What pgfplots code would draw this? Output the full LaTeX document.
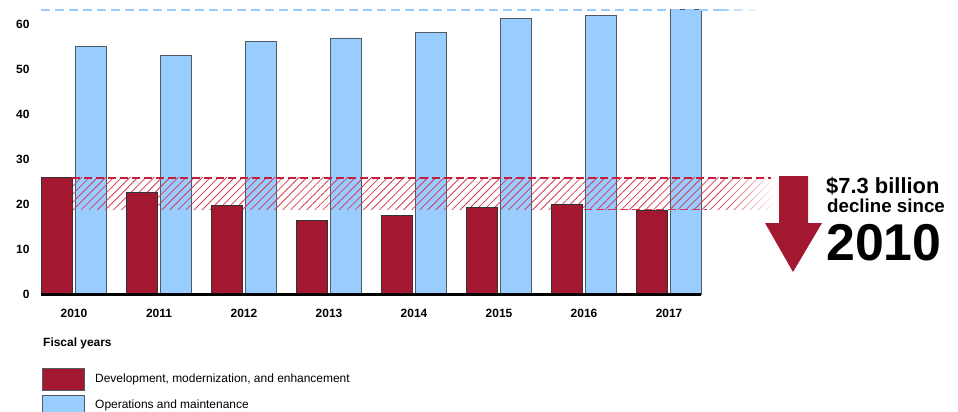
\documentclass[border=0pt]{standalone}
\usepackage{fontspec}
\setmainfont{Liberation Sans}
\usepackage{pgfplots}
\pgfplotsset{compat=1.18}
\usetikzlibrary{patterns.meta,fadings}
\definecolor{barred}{HTML}{A31830}
\definecolor{hatchred}{HTML}{D23A52}
\definecolor{dashred}{HTML}{C41E3A}
\definecolor{barblue}{HTML}{99CCFF}
\definecolor{edgegray}{HTML}{505A64}
\definecolor{dashblue}{HTML}{9CCBFF}
\begin{document}
\begin{tikzpicture}
\begin{axis}[
  at={(41bp,-294bp)}, anchor=south west,
  scale only axis, width=660bp, height=292.5bp,
  xmin=-0.388, xmax=7.376, ymin=0, ymax=65,
  clip=false,
  axis line style={draw=none},
  xtick={0,1,2,3,4,5,6,7},
  xticklabels={2010,2011,2012,2013,2014,2015,2016,2017},
  ytick={0,10,20,30,40,50,60},
  major tick length=0pt,
  tick label style={font=\fontsize{12}{14}\selectfont\bfseries},
  /pgf/number format/assume math mode=true,
  yticklabel style={xshift=-8bp},
  xticklabel style={yshift=-12bp},
]
\addplot[ybar, bar width=0.36, bar shift=0.2, fill=barblue, draw=edgegray, line width=0.9bp]
  coordinates {(0,55.1) (1,53.1) (2,56.2) (3,56.9) (4,58.2) (5,61.3) (6,61.8) (7,63.2)};
\addplot[draw=none, pattern={Lines[angle=45,distance=5.7bp,line width=0.8bp]}, pattern color=hatchred]
  coordinates {(-0.02,18.8) (7.6,18.8) (7.6,25.8) (-0.02,25.8)} -- cycle;
\addplot[draw=none, pattern={Lines[angle=45,distance=5.7bp,line width=0.8bp]}, pattern color=hatchred, path fading=east]
  coordinates {(7.6,18.8) (8.25,18.8) (8.25,25.8) (7.6,25.8)} -- cycle;
\addplot[ybar, bar width=0.36, bar shift=-0.2, fill=barred, draw=black!80, line width=0.9bp]
  coordinates {(0,25.8) (1,22.5) (2,19.6) (3,16.4) (4,17.5) (5,19.3) (6,19.9) (7,18.6)};
\addplot[draw=dashred, color=dashred, line width=1.2bp, dash pattern=on 8bp off 4bp]
  coordinates {(-0.02,25.8) (8.2,25.8)};
\addplot[draw=hatchred, color=hatchred, line width=1.4bp, dash pattern=on 8bp off 4bp]
  coordinates {(6.0,18.8) (7.45,18.8)};
\addplot[draw=dashblue, color=dashblue, line width=2bp, dash pattern=on 9bp off 5bp]
  coordinates {(-0.388,63.1) (7.6,63.1)};
\addplot[draw=dashblue, color=dashblue, line width=2bp, dash pattern=on 9bp off 5bp, path fading=east]
  coordinates {(7.6,63.1) (8.1,63.1)};
\addplot[black, line width=3bp] coordinates {(-0.388,0) (7.376,0)};
\end{axis}
\fill[barred] (779bp,-176bp) -- (808bp,-176bp) -- (808bp,-223bp) -- (822bp,-223bp) -- (793bp,-272bp) -- (765bp,-223bp) -- (779bp,-223bp) -- cycle;
\node[anchor=base west, inner sep=0, font=\fontsize{22}{24}\selectfont\bfseries] at (826bp,-193bp) {\$7.3 billion};
\node[anchor=base west, inner sep=0, font=\fontsize{18.8}{20}\selectfont\bfseries] at (827bp,-212bp) {decline since};
\node[anchor=base west, inner sep=0, font=\fontsize{52}{54}\selectfont\bfseries] at (826bp,-260bp) {2010};
\node[anchor=base west, inner sep=0, font=\fontsize{12}{14}\selectfont\bfseries] at (43bp,-346.7bp) {Fiscal years};
\filldraw[fill=barred, draw=edgegray] (42bp,-368bp) rectangle (84bp,-390bp);
\node[anchor=base west, inner sep=0, font=\fontsize{12}{14}\selectfont] at (95bp,-382.7bp) {Development, modernization, and enhancement};
\filldraw[fill=barblue, draw=edgegray] (42bp,-395bp) rectangle (84bp,-418bp);
\node[anchor=base west, inner sep=0, font=\fontsize{12}{14}\selectfont] at (95bp,-408.3bp) {Operations and maintenance};
\pgfresetboundingbox
\useasboundingbox (0,0) rectangle (958bp,-412bp);
\end{tikzpicture}
\end{document}
